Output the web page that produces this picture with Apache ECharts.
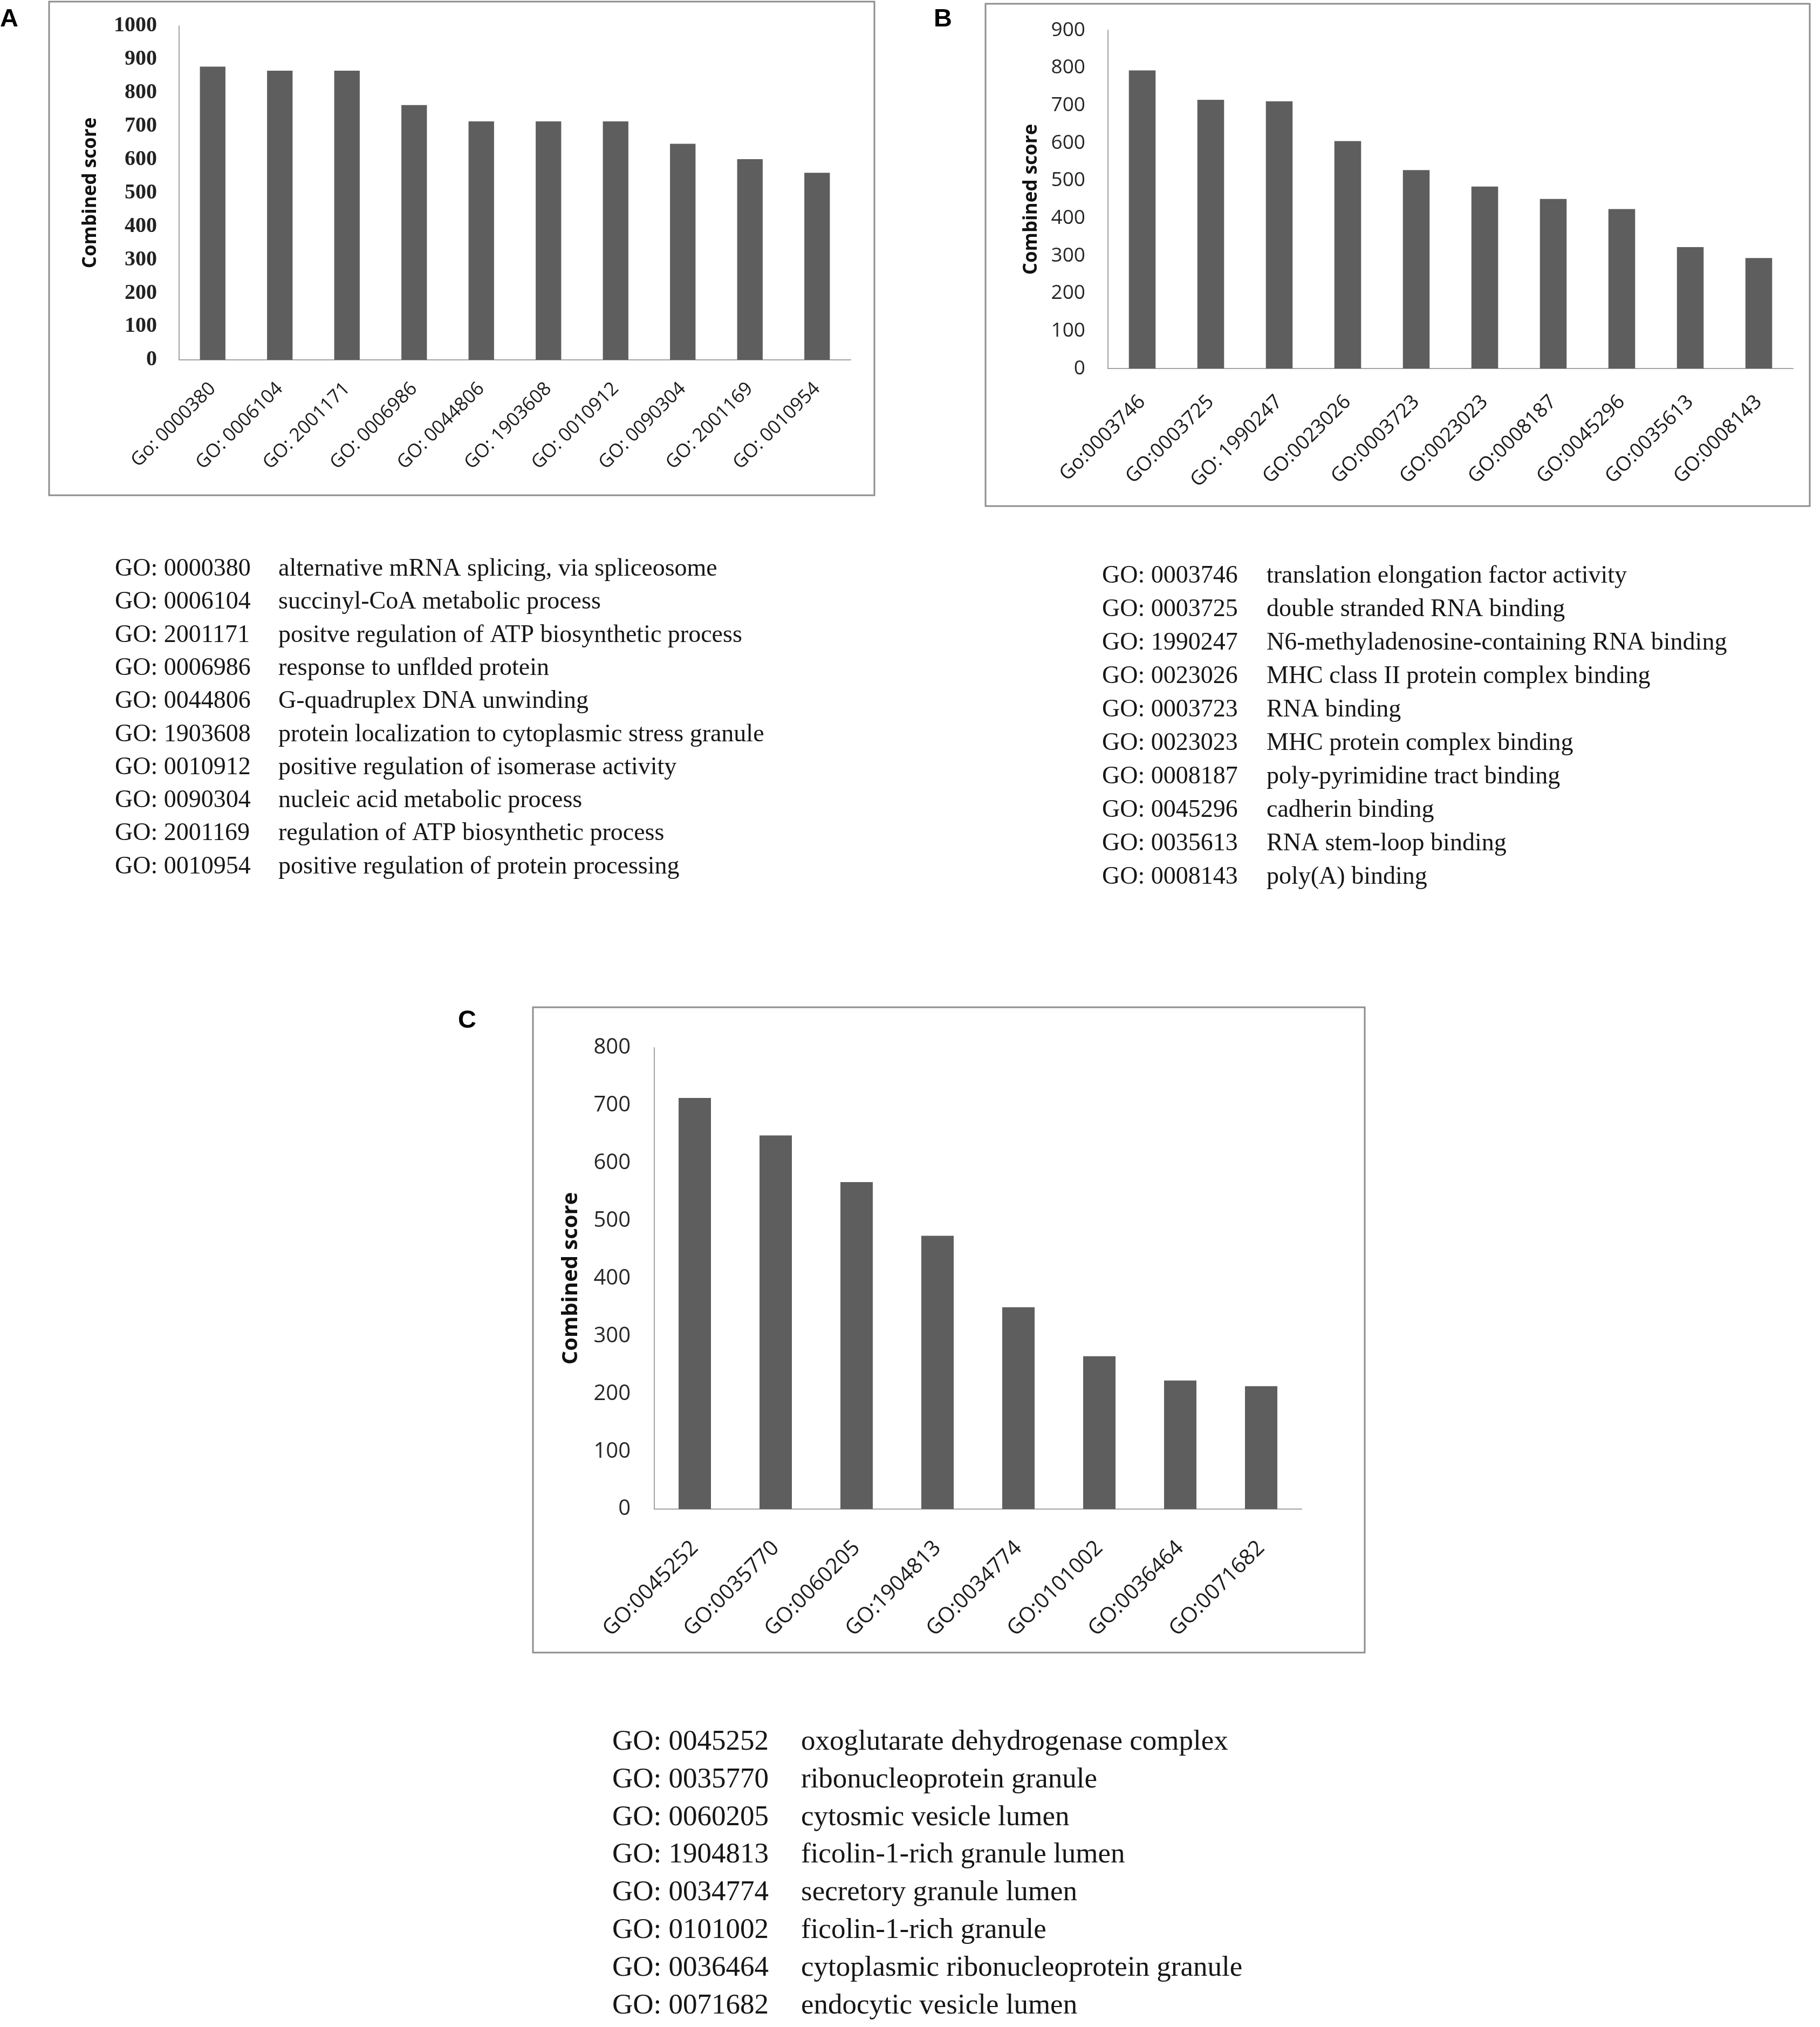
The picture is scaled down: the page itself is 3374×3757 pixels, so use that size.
<!DOCTYPE html>
<html>
<head>
<meta charset="utf-8">
<script src="https://cdn.jsdelivr.net/npm/echarts@6/dist/echarts.min.js"></script>
<style>
  html, body { margin: 0; padding: 0; background: #fff; }
  #chart { width: 3374px; height: 3757px; }
</style>
</head>
<body>
<div id="chart"></div>
<script>
// ---- Panel A: biological process ----
const catsA = ['Go: 0000380', 'GO: 0006104', 'GO: 2001171', 'GO: 0006986', 'GO: 0044806',
  'GO: 1903608', 'GO: 0010912', 'GO: 0090304', 'GO: 2001169', 'GO: 0010954']
const valsA = [878, 866, 866, 763, 714, 714, 714, 647, 601, 560]
const maxA = 1000

const codesA = ['GO: 0000380', 'GO: 0006104', 'GO: 2001171', 'GO: 0006986', 'GO: 0044806',
  'GO: 1903608', 'GO: 0010912', 'GO: 0090304', 'GO: 2001169', 'GO: 0010954']
const termsA = [
  'alternative mRNA splicing, via spliceosome',
  'succinyl-CoA metabolic process',
  'positve regulation of ATP biosynthetic process',
  'response to unflded protein',
  'G-quadruplex DNA unwinding',
  'protein localization to cytoplasmic stress granule',
  'positive regulation of isomerase activity',
  'nucleic acid metabolic process',
  'regulation of ATP biosynthetic process',
  'positive regulation of protein processing'
]

// ---- Panel B: molecular function ----
const catsB = ['Go:0003746', 'GO:0003725', 'GO: 1990247', 'GO:0023026', 'GO:0003723',
  'GO:0023023', 'GO:0008187', 'GO:0045296', 'GO:0035613', 'GO:0008143']
const valsB = [793, 715, 711, 605, 528, 484, 451, 424, 323, 294]
const maxB = 900

const codesB = ['GO: 0003746', 'GO: 0003725', 'GO: 1990247', 'GO: 0023026', 'GO: 0003723',
  'GO: 0023023', 'GO: 0008187', 'GO: 0045296', 'GO: 0035613', 'GO: 0008143']
const termsB = [
  'translation elongation factor activity',
  'double stranded RNA binding',
  'N6-methyladenosine-containing RNA binding',
  'MHC class II protein complex binding',
  'RNA binding',
  'MHC protein complex binding',
  'poly-pyrimidine tract binding',
  'cadherin binding',
  'RNA stem-loop binding',
  'poly(A) binding'
]

// ---- Panel C: cellular component ----
const catsC = ['GO:0045252', 'GO:0035770', 'GO:0060205', 'GO:1904813',
  'GO:0034774', 'GO:0101002', 'GO:0036464', 'GO:0071682']
const valsC = [713, 648, 567, 474, 350, 265, 223, 213]
const maxC = 800

const codesC = ['GO: 0045252', 'GO: 0035770', 'GO: 0060205', 'GO: 1904813',
  'GO: 0034774', 'GO: 0101002', 'GO: 0036464', 'GO: 0071682']
const termsC = [
  'oxoglutarate dehydrogenase complex',
  'ribonucleoprotein granule',
  'cytosmic vesicle lumen',
  'ficolin-1-rich granule lumen',
  'secretory granule lumen',
  'ficolin-1-rich granule',
  'cytoplasmic ribonucleoprotein granule',
  'endocytic vesicle lumen'
]

const SANS = '"Open Sans", "DejaVu Sans", sans-serif'
const SERIF = '"Liberation Serif", "DejaVu Serif", serif'
const BAR = '#5e5e5e'
const AXIS = '#a3a3a3'

function xAxisOf(gridIndex, cats, fontSize, margin) {
  return {
    type: 'category', gridIndex, data: cats,
    axisLine: { lineStyle: { color: AXIS, width: 2 } },
    axisTick: { show: false },
    axisLabel: { rotate: 45, margin, interval: 0, fontFamily: SANS, fontSize, color: '#1c1c1c' }
  }
}

function yAxisOf(gridIndex, max, label, title) {
  return {
    type: 'value', gridIndex, min: 0, max, interval: 100,
    name: 'Combined score', nameLocation: 'middle', nameRotate: 90, nameGap: title.gap,
    nameTextStyle: { fontFamily: SANS, fontWeight: 'bold', fontSize: title.size, color: '#111' },
    axisLine: { show: true, lineStyle: { color: AXIS, width: 2 } },
    axisTick: { show: false },
    splitLine: { show: false },
    // 不要千分位逗号
    axisLabel: Object.assign({ color: '#222', formatter: v => String(v) }, label)
  }
}

// 图例文字：GO 编号 + 名称两列
function legendRows(codes, terms, xCode, xTerm, y0, step, size) {
  const out = []
  codes.forEach((c, i) => {
    const y = y0 + i * step
    out.push({ type: 'text', style: { text: c, x: xCode, y, font: size + 'px ' + SERIF, fill: '#161616', verticalAlign: 'middle', textVerticalAlign: 'middle' } })
    out.push({ type: 'text', style: { text: terms[i], x: xTerm, y, font: size + 'px ' + SERIF, fill: '#161616', verticalAlign: 'middle', textVerticalAlign: 'middle' } })
  })
  return out
}

function box(x, y, w, h) {
  return { type: 'rect', shape: { x, y, width: w, height: h }, style: { fill: 'none', stroke: '#8e8e8e', lineWidth: 3 }, z: -1 }
}

function letter(t, x, y) {
  return { type: 'text', style: { text: t, x, y, font: 'bold 47px "Liberation Sans", Arial, sans-serif', fill: '#000', verticalAlign: 'top', textVerticalAlign: 'top' } }
}

const chart = echarts.init(document.getElementById('chart'))

chart.setOption({
  animation: false,
  backgroundColor: '#fff',
  grid: [
    { left: 332, top: 48, width: 1245, height: 619 },
    { left: 2054, top: 56, width: 1270, height: 627 },
    { left: 1213, top: 1942, width: 1200, height: 855 }
  ],
  xAxis: [
    xAxisOf(0, catsA, 35, 48),
    xAxisOf(1, catsB, 37, 56),
    xAxisOf(2, catsC, 40, 66)
  ],
  yAxis: [
    yAxisOf(0, maxA, { fontFamily: SERIF, fontWeight: 'bold', fontSize: 40, margin: 41 }, { gap: 146, size: 35 }),
    yAxisOf(1, maxB, { fontFamily: SANS, fontSize: 37, margin: 42, color: '#262626' }, { gap: 124, size: 35 }),
    yAxisOf(2, maxC, { fontFamily: SANS, fontSize: 40, margin: 44, color: '#262626' }, { gap: 134, size: 40 })
  ],
  series: [
    { type: 'bar', xAxisIndex: 0, yAxisIndex: 0, data: valsA, barWidth: '38%', itemStyle: { color: BAR } },
    { type: 'bar', xAxisIndex: 1, yAxisIndex: 1, data: valsB, barWidth: '39%', itemStyle: { color: BAR } },
    { type: 'bar', xAxisIndex: 2, yAxisIndex: 2, data: valsC, barWidth: '40%', itemStyle: { color: BAR } }
  ],
  graphic: [
    box(91, 3, 1530, 915),
    box(1827, 7, 1528, 931),
    box(988, 1867, 1542, 1196),
    letter('A', 0, 13),
    letter('B', 1731, 13),
    letter('C', 849, 1869),
    ...legendRows(codesA, termsA, 213, 516, 1055, 61.3, 46),
    ...legendRows(codesB, termsB, 2043, 2348, 1068, 62, 46),
    ...legendRows(codesC, termsC, 1135, 1485, 3229, 69.8, 53)
  ]
})
</script>
</body>
</html>
